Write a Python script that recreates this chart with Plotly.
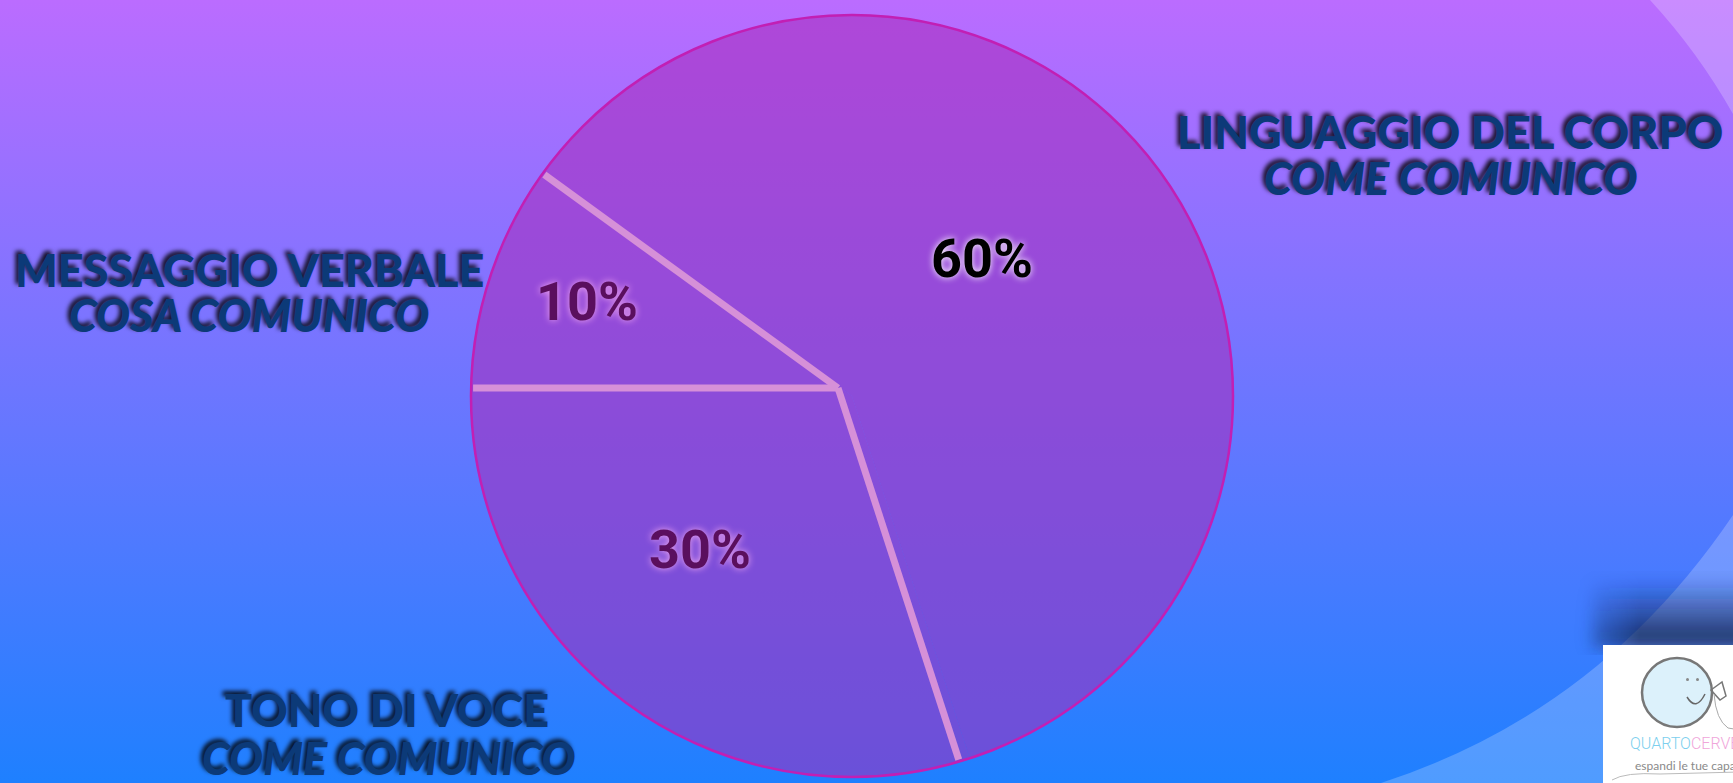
import math
import base64
import plotly.graph_objects as go

# ---------------- data ----------------
categories = ["LINGUAGGIO DEL CORPO", "TONO DI VOCE", "MESSAGGIO VERBALE"]
subtitles = ["COME COMUNICO", "COME COMUNICO", "COSA COMUNICO"]
values = [60, 30, 10]
pct_labels = [f"{v}%" for v in values]

# ---------------- layout constants ----------------
W, H = 1733, 783
CX, CY_TOP, R = 852, 396, 381      # pie centre (px from top-left) and radius
CY = H - CY_TOP                    # centre in y-up axis pixels
VX, VY = 838, H - 388              # point where the separator strokes meet
ROT = -54                          # first slice start (deg clockwise from 12 o'clock)

# label positions (x centre, y from top)
cat_pos = [(1450, 132), (387, 710), (249, 270)]
sub_pos = [(1451, 178), (389, 758), (249, 315)]
pct_pos = [(982, 258), (700, 549), (587, 301)]
pct_colors = ["#000000", "#5a0f5e", "#5a0f5e"]
pct_glow = ["0px 0px 7px #ffffff", "0px 0px 7px #f2a8f0", "0px 0px 7px #f2a8f0"]

# ---------------- background (decorative svg) ----------------
svg = f"""<svg xmlns='http://www.w3.org/2000/svg' width='{W}' height='{H}' viewBox='0 0 {W} {H}'>
<defs>
<linearGradient id='g' x1='0' y1='0' x2='0' y2='1'>
<stop offset='0' stop-color='#bb6cff'/>
<stop offset='1' stop-color='#1e80ff'/>
</linearGradient>
<linearGradient id='s' x1='0' y1='0' x2='0' y2='1'>
<stop offset='0' stop-color='#14204a' stop-opacity='0'/>
<stop offset='1' stop-color='#14204a' stop-opacity='0.9'/>
</linearGradient>
<linearGradient id='h' x1='0' y1='0' x2='1' y2='0'>
<stop offset='0' stop-color='#fff' stop-opacity='0'/>
<stop offset='0.4' stop-color='#fff' stop-opacity='1'/>
<stop offset='1' stop-color='#fff' stop-opacity='1'/>
</linearGradient>
<mask id='m'><rect x='1560' y='560' width='200' height='100' fill='url(#h)'/></mask>
<filter id='b' x='-50%' y='-50%' width='200%' height='200%'><feGaussianBlur stdDeviation='8'/></filter>
</defs>
<rect width='{W}' height='{H}' fill='url(#g)'/>
<path d='M1650,0 Q1698,52 1733,114 L1733,0 Z' fill='#ffffff' fill-opacity='0.22'/>
<path d='M1381,783 Q1600,712 1733,515 L1733,783 Z' fill='#ffffff' fill-opacity='0.22'/>
<g mask='url(#m)'><rect x='1590' y='578' width='180' height='70' fill='url(#s)' filter='url(#b)'/></g>
</svg>"""
bg_src = "data:image/svg+xml;base64," + base64.b64encode(svg.encode()).decode()

fig = go.Figure()

fig.add_trace(go.Pie(
    values=values,
    labels=categories,
    sort=False,
    direction="clockwise",
    rotation=ROT,
    marker=dict(colors=["rgba(167,41,185,0.55)"] * len(values),
                line=dict(color="rgba(0,0,0,0)", width=0)),
    textinfo="none",
    hoverinfo="skip",
    showlegend=False,
    domain=dict(x=[(CX - R) / W, (CX + R) / W], y=[(CY - R) / H, (CY + R) / H]),
))

# empty scatter so the cartesian axes exist for the annotations/shapes
fig.add_trace(go.Scatter(x=[None], y=[None], mode="markers", hoverinfo="skip", showlegend=False))

shapes = []
# slice separators derived from the values (rays from the meeting point to the rim)
theta0 = 90 - ROT
tot = sum(values)
cum = 0
for v in values:
    th = math.radians(theta0 - 360.0 * cum / tot)
    dx, dy = math.cos(th), math.sin(th)
    ox, oy = VX - CX, VY - CY
    b = ox * dx + oy * dy
    t = -b + math.sqrt(b * b - (ox * ox + oy * oy - (R - 2) ** 2))
    shapes.append(dict(type="line", xref="x", yref="y",
                       x0=VX, y0=VY, x1=VX + t * dx, y1=VY + t * dy,
                       line=dict(color="#d690d8", width=7), layer="above"))
    cum += v
# rim outline
shapes.append(dict(type="circle", xref="x", yref="y", x0=CX - R, x1=CX + R,
                   y0=CY - R, y1=CY + R, line=dict(color="#c21fb4", width=2.5),
                   fillcolor="rgba(0,0,0,0)", layer="above"))

ann = []
cat_font = dict(family="Lato, 'Open Sans', sans-serif", size=45, color="#0c3a78",
                weight=900, shadow="-3px -3px 4px rgba(0,0,0,0.85)")
for name, (x, y) in zip(categories, cat_pos):
    ann.append(dict(x=x, y=H - y, xref="x", yref="y", text=name, showarrow=False,
                    xanchor="center", yanchor="middle", font=cat_font))
for name, (x, y) in zip(subtitles, sub_pos):
    f = dict(cat_font)
    f["style"] = "italic"
    ann.append(dict(x=x, y=H - y, xref="x", yref="y", text=name, showarrow=False,
                    xanchor="center", yanchor="middle", font=f))
for t, (x, y), c, gl in zip(pct_labels, pct_pos, pct_colors, pct_glow):
    ann.append(dict(x=x, y=H - y, xref="x", yref="y", text=t, showarrow=False,
                    xanchor="center", yanchor="middle",
                    font=dict(family="Roboto, 'Open Sans', sans-serif",
                              size=54, color=c, weight=700, shadow=gl)))

# logo texts
ann.append(dict(x=1628, y=H - 743, xref="x", yref="y", showarrow=False,
                xanchor="left", yanchor="middle",
                text="<span style='color:#7ccfee'>QUARTO</span><span style='color:#f0a6da'>CERVELLO</span>",
                font=dict(family="Roboto, Lato, sans-serif", size=16, weight=300)))
ann.append(dict(x=1633, y=H - 765, xref="x", yref="y", showarrow=False,
                xanchor="left", yanchor="middle", text="espandi le tue capacità",
                font=dict(family="Lato, sans-serif", size=12, color="#8a8a8a")))

shapes += [
    dict(type="rect", xref="x", yref="y", x0=1603, x1=1740, y0=-5, y1=H - 645,
         fillcolor="#ffffff", line=dict(width=0), layer="above"),
    dict(type="circle", xref="x", yref="y", x0=1642, x1=1712, y0=H - 727, y1=H - 658,
         fillcolor="#dcf1fb", line=dict(color="#777777", width=2.5), layer="above"),
    dict(type="path", xref="x", yref="y", path=f"M1687,{H-697} Q1696,{H-712} 1705,{H-694}",
         line=dict(color="#666666", width=1.5), layer="above"),
    dict(type="circle", xref="x", yref="y", x0=1686, x1=1689, y0=H - 681, y1=H - 678,
         fillcolor="#888888", line=dict(width=0), layer="above"),
    dict(type="circle", xref="x", yref="y", x0=1696, x1=1699, y0=H - 681, y1=H - 678,
         fillcolor="#888888", line=dict(width=0), layer="above"),
    dict(type="path", xref="x", yref="y",
         path=f"M1711,{H-690} L1722,{H-682} L1726,{H-696} L1720,{H-700} Z",
         line=dict(color="#777777", width=1.5), fillcolor="rgba(0,0,0,0)", layer="above"),
    dict(type="path", xref="x", yref="y",
         path=f"M1714,{H-694} Q1716,{H-720} 1728,{H-728} L1740,{H-730}",
         line=dict(color="#aaaaaa", width=1), layer="above"),
    dict(type="path", xref="x", yref="y",
         path=f"M1612,{H-780} Q1625,{H-772} 1660,{H-774} L1740,{H-772}",
         line=dict(color="#bbbbbb", width=1), layer="above"),
]

fig.update_layout(
    width=W, height=H,
    margin=dict(l=0, r=0, t=0, b=0),
    paper_bgcolor="#6f72ff",
    plot_bgcolor="rgba(0,0,0,0)",
    xaxis=dict(range=[0, W], visible=False, fixedrange=True, domain=[0, 1]),
    yaxis=dict(range=[0, H], visible=False, fixedrange=True, domain=[0, 1]),
    images=[dict(source=bg_src, xref="paper", yref="paper", x=0, y=1, sizex=1, sizey=1,
                 xanchor="left", yanchor="top", sizing="stretch", layer="below")],
    annotations=ann,
    shapes=shapes,
    showlegend=False,
)

fig.write_html("out.html", config={"displayModeBar": False},
               post_script="document.body.style.margin='0';document.body.style.overflow='hidden';")
